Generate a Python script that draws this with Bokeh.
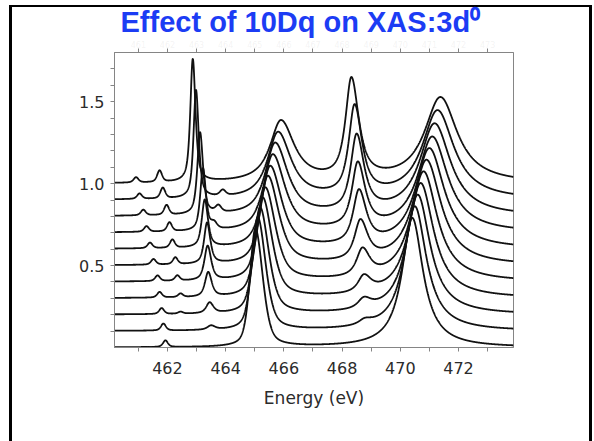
import numpy as np
from bokeh.plotting import figure
from bokeh.models import LinearAxis, FixedTicker, Title, Range1d, PrintfTickFormatter
from bokeh.embed import file_html
from bokeh.resources import INLINE

# ---- data (curve 0 = bottom, 10Dq = 0 ; curve 10 = top) ----
offset = [0.0, 0.1, 0.2, 0.3, 0.4, 0.5, 0.6, 0.7, 0.8, 0.9, 1.0]

# pre-edge peak 1
pre1_pos = [461.93, 461.86, 461.80, 461.73, 461.66, 461.52, 461.40, 461.28, 461.17, 461.04, 460.92]
pre1_h = [0.040, 0.042, 0.036, 0.034, 0.034, 0.034, 0.034, 0.034, 0.034, 0.033, 0.032]
# pre-edge peak 2
pre2_pos = [462.50, 462.48, 462.45, 462.45, 462.34, 462.27, 462.17, 462.07, 461.97, 461.84, 461.73]
pre2_h = [0.0, 0.0, 0.012, 0.022, 0.032, 0.042, 0.050, 0.055, 0.060, 0.065, 0.070]
# L3 t2g (sharp)
l3t_pos = [463.55, 463.50, 463.45, 463.40, 463.38, 463.36, 463.28, 463.22, 463.12, 462.98, 462.87]
l3t_h = [0.0, 0.025, 0.065, 0.15, 0.21, 0.25, 0.29, 0.38, 0.50, 0.66, 0.75]
l3t_w = [0.15, 0.15, 0.14, 0.13, 0.13, 0.12, 0.12, 0.11, 0.11, 0.10, 0.10]
# small satellite after the L3 t2g peak
sat_pos = [463.60, 463.60, 463.60, 463.60, 463.60, 463.60, 463.55, 463.60, 463.75, 463.90, 464.00]
sat_h = [0.0, 0.0, 0.0, 0.0, 0.0, 0.0, 0.0, 0.035, 0.040, 0.035, 0.0]
# L3 eg
l3e_pos = [465.02, 465.10, 465.18, 465.27, 465.36, 465.45, 465.53, 465.62, 465.70, 465.80, 465.90]
l3e_h = [0.72, 0.69, 0.65, 0.61, 0.57, 0.54, 0.50, 0.47, 0.44, 0.405, 0.375]
l3e_wl = [0.22, 0.24, 0.26, 0.28, 0.30, 0.32, 0.35, 0.38, 0.40, 0.43, 0.45]
l3e_wr = [0.30, 0.32, 0.35, 0.38, 0.41, 0.44, 0.46, 0.49, 0.51, 0.53, 0.55]
l3e_eta = [0.45, 0.50, 0.55, 0.60, 0.65, 0.70, 0.75, 0.80, 0.85, 0.90, 0.95]
# L2 t2g
l2t_pos = [468.80, 468.78, 468.75, 468.75, 468.70, 468.63, 468.58, 468.54, 468.50, 468.43, 468.32]
l2t_h = [0.0, 0.03, 0.06, 0.10, 0.165, 0.24, 0.325, 0.395, 0.465, 0.545, 0.61]
# L2 eg
l2e_pos = [470.41, 470.50, 470.60, 470.70, 470.80, 470.90, 471.00, 471.10, 471.18, 471.28, 471.38]
l2e_h = [0.79, 0.76, 0.73, 0.70, 0.67, 0.64, 0.61, 0.58, 0.56, 0.54, 0.52]
l2e_wl = [0.42, 0.45, 0.48, 0.50, 0.53, 0.56, 0.58, 0.60, 0.62, 0.64, 0.66]
l2e_wr = [0.45, 0.48, 0.51, 0.54, 0.57, 0.60, 0.62, 0.64, 0.66, 0.68, 0.70]

x_ticks = [462, 464, 466, 468, 470, 472]
x_minor = [461, 463, 465, 467, 469, 471, 473]
top_ticks = [461, 462, 463, 464, 465, 466, 467, 468, 469, 470, 471, 472, 473]
y_ticks = [0.5, 1.0, 1.5]
y_minor = [0.1, 0.2, 0.3, 0.4, 0.6, 0.7, 0.8, 0.9, 1.1, 1.2, 1.3, 1.4, 1.6, 1.7]
title_text = "Effect of 10Dq on XAS:3d\u2070"

# ---- line shape (broadening of each read peak) ----
energy = np.linspace(460.18, 473.89, 2400)


def band(x, x0, h, wl, wr, eta):
    w = np.where(x < x0, wl, wr)
    u = (x - x0) / w
    return h * (eta / (1.0 + u * u) + (1.0 - eta) * np.exp(-np.log(2.0) * u * u))


curves = []
for k in range(len(offset)):
    y = np.full_like(energy, offset[k])
    y += band(energy, pre1_pos[k], pre1_h[k], 0.10, 0.10, 0.5)
    y += band(energy, pre2_pos[k], pre2_h[k], 0.10, 0.10, 0.5)
    y += band(energy, l3t_pos[k], l3t_h[k], l3t_w[k], l3t_w[k] * 1.1, 0.7)
    y += band(energy, sat_pos[k], sat_h[k], 0.12, 0.12, 0.5)
    y += band(energy, l3e_pos[k], l3e_h[k], l3e_wl[k], l3e_wr[k], l3e_eta[k])
    y += band(energy, l2t_pos[k], l2t_h[k], 0.24, 0.30, 0.85)
    y += band(energy, l2e_pos[k], l2e_h[k], l2e_wl[k], l2e_wr[k], 1.0)
    curves.append(y)

# ---- figure ----
gray = "#858585"
p = figure(width=594, height=441, output_backend="svg", toolbar_location=None,
           x_range=Range1d(460.18, 473.89), y_range=Range1d(0.0, 1.8),
           min_border_left=114, min_border_right=81, min_border_top=52, min_border_bottom=94,
           title=None)
p.grid.visible = False
p.outline_line_color = gray
p.outline_line_width = 1
p.background_fill_color = "white"
p.border_fill_alpha = 0.0
# page frame drawn around the slide (left, top and right edges)
p.styles = {"box-shadow": "inset 9px 5px 0 0 white, inset -2px 0 0 0 white, "
                          "inset 12px 7px 0 0 black, inset -5px 0 0 0 black",
            "background-color": "white"}

for y in curves:
    p.line(energy, y, line_color="#111111", line_width=1.8)

xa = p.xaxis[0]
xa.ticker = FixedTicker(ticks=x_ticks, minor_ticks=x_minor)
ya = p.yaxis[0]
ya.ticker = FixedTicker(ticks=y_ticks, minor_ticks=y_minor)
ya.formatter = PrintfTickFormatter(format="%.1f")
for ax in (xa, ya):
    ax.major_tick_out = 4
    ax.major_tick_in = 0
    ax.minor_tick_out = 4
    ax.minor_tick_in = 0
    ax.axis_line_color = gray
    ax.major_tick_line_color = gray
    ax.minor_tick_line_color = gray
    ax.major_label_text_font = "DejaVu Sans"
    ax.major_label_text_font_size = "16px"
    ax.major_label_text_color = "#2b2b2b"
xa.major_label_standoff = 10
ya.major_label_standoff = 6
xa.axis_label = "Energy (eV)"
xa.axis_label_text_font = "DejaVu Sans"
xa.axis_label_text_font_size = "17px"
xa.axis_label_text_font_style = "normal"
xa.axis_label_text_color = "#2b2b2b"
xa.axis_label_standoff = 11

# top axis: ticks at every eV, with the faint ghost labels seen in the reference
top = LinearAxis(ticker=FixedTicker(ticks=top_ticks, minor_ticks=[]),
                 major_tick_out=4, major_tick_in=0, minor_tick_out=0, minor_tick_in=0,
                 axis_line_color=gray, major_tick_line_color=gray,
                 major_label_text_font="DejaVu Sans", major_label_text_font_size="8px",
                 major_label_text_color="#9a9a9a", major_label_text_alpha=0.12,
                 major_label_standoff=1)
p.add_layout(top, "above")

title = Title(text=title_text, align="left", offset=6,
              text_font="Liberation Sans", text_font_style="bold", text_font_size="29px",
              text_color="#1c3cf4", standoff=0)
p.add_layout(title, "above")

open("out.html", "w").write(file_html(p, INLINE))
